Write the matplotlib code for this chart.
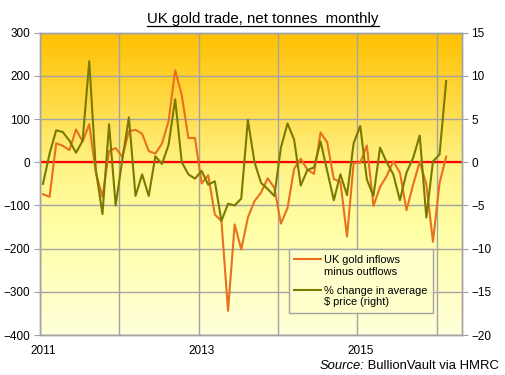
import matplotlib
matplotlib.use('Agg')
import matplotlib.pyplot as plt
import numpy as np
from matplotlib.colors import LinearSegmentedColormap
from matplotlib.legend_handler import HandlerLine2D
from matplotlib.lines import Line2D

plt.rcParams['font.family'] = ['Liberation Sans', 'DejaVu Sans']

START_YEAR = 2011  # first month = Jan 2011

# UK gold inflows minus outflows, tonnes per month (Jan 2011 - Feb 2016)
uk_net_tonnes = [
    -74, -80, 44, 38, 28, 76, 48, 88, -24, -80, 26, 33,
    12, 72, 75, 66, 26, 20, 43, 95, 213, 155, 56, 56,
    -49, -30, -121, -136, -344, -144, -202, -128, -90, -70, -37, -59,
    -142, -106, -15, 8, -17, -27, 69, 46, -39, -45, -172, -2,
    -1, 39, -101, -57, -32, 2, -24, -111, -52, 1, -51, -184,
    -48, 13,
]

# % change in average monthly $ gold price (right axis)
price_change_pct = [
    -2.5, 1.0, 3.7, 3.5, 2.5, 1.1, 2.5, 11.7, -0.9, -6.0, 4.4, -5.0,
    0.3, 5.2, -3.9, -1.4, -3.9, 0.7, -0.2, 2.0, 7.3, 0.0, -1.4, -1.9,
    -1.0, -2.6, -2.2, -6.8, -4.8, -5.0, -4.2, 4.9, 0.0, -2.4, -3.1, -3.9,
    1.7, 4.5, 2.6, -2.7, -0.9, -0.6, 2.4, -1.0, -4.4, -1.4, -3.8, 2.2,
    4.2, -2.0, -3.9, 1.7, 0.0, -1.4, -4.4, -1.2, 0.5, 3.1, -6.4, 0.1,
    0.9, 9.4,
]

grid_years = [2011, 2012, 2013, 2014, 2015, 2016]
label_years = [2011, 2013, 2015]

ORANGE = '#E8701E'
OLIVE = '#7A7A00'
GRAY = '#A3A3A3'


class TopLineHandler(HandlerLine2D):
    # put the legend sample beside the first line of a two-line label
    def create_artists(self, legend, orig_handle, xdescent, ydescent,
                       width, height, fontsize, trans):
        arts = super().create_artists(legend, orig_handle, xdescent, ydescent,
                                      width, height, fontsize, trans)
        for a in arts:
            a.set_ydata(np.asarray(a.get_ydata()) + 0.62 * fontsize)
        return arts


def main():
    months = np.arange(len(uk_net_tonnes))
    x = START_YEAR + (months + 0.45) / 12.0

    fig = plt.figure(figsize=(5.05, 3.75), dpi=100)
    ax = fig.add_axes([40 / 505, 40 / 375, 421.7 / 505, 302.3 / 375])
    ax2 = ax.twinx()

    # yellow-gold gradient background
    cmap = LinearSegmentedColormap.from_list('bg', [
        (0.0, '#FFFFDA'), (0.35, '#FFFFA6'), (0.55, '#FFF488'),
        (0.75, '#FFDC4A'), (1.0, '#FFC000')])
    grad = np.linspace(0, 1, 256).reshape(-1, 1)
    ax.imshow(grad, extent=(0, 1, 0, 1), transform=ax.transAxes,
              origin='lower', aspect='auto', cmap=cmap, zorder=0)

    ax.axhline(0, color='#FF0000', lw=1.6, zorder=1.5)
    ax.plot(x, uk_net_tonnes, color=ORANGE, lw=1.5, zorder=2)
    ax2.plot(x, price_change_pct, color=OLIVE, lw=1.5, zorder=2)

    ax.set_xlim(START_YEAR, START_YEAR + 63.8 / 12)
    ax.set_ylim(-400, 300)
    ax2.set_ylim(-20, 15)
    ax.set_yticks(range(-400, 301, 100))
    ax2.set_yticks(range(-20, 16, 5))

    ax.set_xticks(grid_years)
    ax.set_xticklabels([])
    ax.set_xticks([y + 0.04 for y in label_years], minor=True)
    ax.set_xticklabels([str(y) for y in label_years], minor=True)
    ax.tick_params(axis='x', which='both', length=0, pad=7, labelsize=8.5)
    ax.tick_params(axis='y', length=4, color=GRAY, pad=3, labelsize=8.5)
    ax2.tick_params(axis='y', length=4, color=GRAY, pad=3, labelsize=8.5)

    ax.grid(True, which='major', color=GRAY, lw=1.0)
    ax.set_axisbelow(True)
    for a in (ax, ax2):
        for s in a.spines.values():
            s.set_color(GRAY)
            s.set_linewidth(1.0)

    h1 = Line2D([], [], color=ORANGE, lw=1.5)
    h2 = Line2D([], [], color=OLIVE, lw=1.5)
    leg = ax2.legend([h1, h2],
                     ['UK gold inflows\nminus outflows',
                      '% change in average\n$ price (right)'],
                     loc='lower left', bbox_to_anchor=(0.59, 0.073),
                     handler_map={Line2D: TopLineHandler()},
                     fontsize=7.9, frameon=True, fancybox=False,
                     edgecolor=GRAY, facecolor='#FFFFCC', framealpha=1,
                     handlelength=2.4, handletextpad=0.3, labelspacing=0.85,
                     borderpad=0.5, borderaxespad=0)
    leg.get_frame().set_linewidth(1.0)

    title = fig.text(0.521, 1 - 18.5 / 375, 'UK gold trade, net tonnes  monthly',
                     ha='center', va='center', fontsize=10.8)

    src = fig.text(499 / 505, 1 - 366 / 375, ' BullionVault via HMRC',
                   ha='right', va='center', fontsize=9.4)

    fig.canvas.draw()
    r = fig.canvas.get_renderer()
    tb = title.get_window_extent(r)
    uy = (375 - 25.5) / 375
    fig.add_artist(Line2D([tb.x0 / fig.bbox.width, tb.x1 / fig.bbox.width],
                          [uy, uy], color='black', lw=0.9,
                          transform=fig.transFigure))
    sb = src.get_window_extent(r)
    fig.text(sb.x0 / fig.bbox.width, 1 - 366 / 375, 'Source:',
             ha='right', va='center', fontsize=9.4, style='italic')

    fig.savefig('out.png', dpi=100, facecolor='white')
    plt.close(fig)


if __name__ == '__main__':
    main()
